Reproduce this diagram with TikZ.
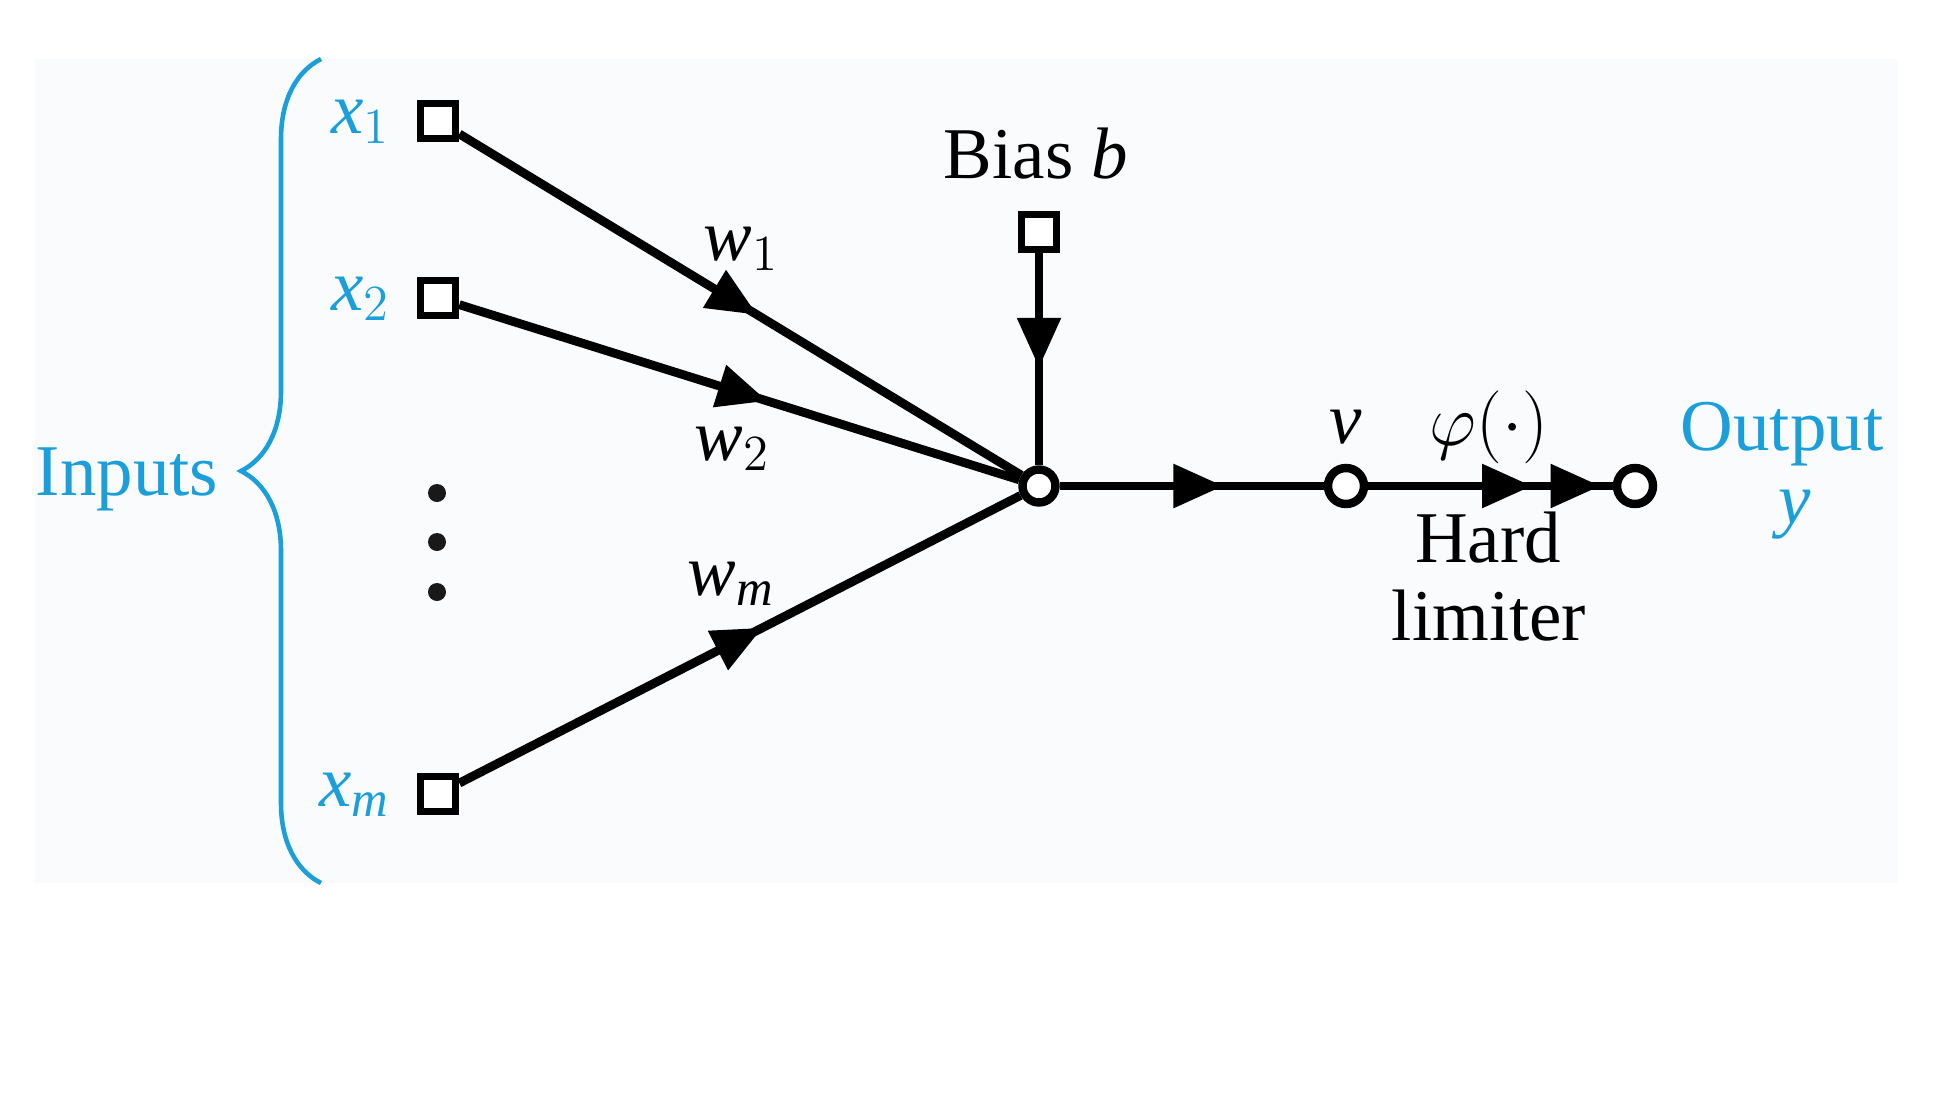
\documentclass[tikz,border=0pt]{standalone}
\usepackage{fontspec}
\setmainfont{Liberation Serif}
\usetikzlibrary{arrows.meta,decorations.markings,decorations.pathreplacing}
\definecolor{inblue}{HTML}{1A9FDB}
\definecolor{panel}{HTML}{FAFBFC}

\begin{document}
\begin{tikzpicture}[
    font=\huge,
    port/.style={draw,line width=2.2pt,minimum size=0.35cm,inner sep=0pt,fill=white},
    junc/.style={draw,circle,line width=2.4pt,minimum size=#1,inner sep=0pt,fill=white},
    junc/.default=0.36cm,
    dotnode/.style={circle,fill=black!90,minimum size=0.18cm,inner sep=0pt},
    lbl/.style={inner sep=0pt,anchor=base},
    wedge/.tip={Triangle[length=0.5cm,width=0.42cm]},
    wire/.style={line width=2.5pt,postaction={decorate},
      decoration={markings,mark=at position #1 with {\arrow{wedge}}}},
    wiretwo/.style={line width=2.5pt,postaction={decorate},
      decoration={markings,mark=at position 0.67 with {\arrow{wedge}},
        mark=at position 0.95 with {\arrow{wedge}}}},
  ]
  \useasboundingbox (0,0) rectangle (19.48,-11.08);
  \fill[panel] (0.35,-0.59) rectangle (18.98,-8.83);

  \foreach \n/\y/\s in {1/1.21/1,2/2.98/2,m/7.94/\mathit{m}} {
    \node[port] (x\n) at (4.38,-\y) {};
    \node[lbl,anchor=base east,text=inblue] (lx\n) at (3.91,{-\y-0.12}) {$\mathit{x}_{\s}$};
  }
  \foreach \i/\y in {1/4.93,2/5.42,3/5.92}
    \node[dotnode] (dot\i) at (4.37,-\y) {};

  \node[junc=0.33cm] (sum) at (10.39,-4.86) {};
  \node[port] (bias) at (10.39,-2.32) {};
  \node[junc] (v) at (13.46,-4.86) {};
  \node[junc] (out) at (16.35,-4.86) {};

  \draw[wire=0.53] (x1) -- (sum);
  \draw[wire=0.55] (x2) -- (sum);
  \draw[wire=0.54] (xm) -- (sum);
  \draw[wire=0.54] (bias) -- (sum);
  \draw[wire=0.62] (sum) -- (v);
  \draw[wiretwo] (v) -- (out);

  \coordinate (brbot) at (3.21,-8.83);
  \coordinate (brtop) at (3.21,-0.59);
  \draw[inblue,line width=1.3pt,decorate,decoration={brace,amplitude=0.8cm}] (brbot) -- (brtop);

  \node[lbl,text=inblue] (inputs) at (1.27,-4.95) {Inputs};
  \node[lbl] (biaslbl) at (10.36,-1.78) {Bias \textit{b}};
  \node[lbl] (wone) at (7.41,-2.60) {$\mathit{w}_{1}$};
  \node[lbl] (wtwo) at (7.32,-4.60) {$\mathit{w}_{2}$};
  \node[lbl] (wm) at (7.31,-5.95) {$\mathit{w}_{\mathit{m}}$};
  \node[lbl] (vlbl) at (13.46,-4.43) {$\mathit{v}$};
  \node[lbl] (phi) at (14.89,-4.45) {$\varphi(\cdot)$};
  \node[lbl] (hard) at (14.88,-5.62) {Hard};
  \node[lbl] (limiter) at (14.89,-6.40) {limiter};
  \node[lbl,text=inblue] (output) at (17.82,-4.50) {Output};
  \node[lbl,text=inblue] (ylbl) at (17.95,-5.23) {$\mathit{y}$};
\end{tikzpicture}
\end{document}
